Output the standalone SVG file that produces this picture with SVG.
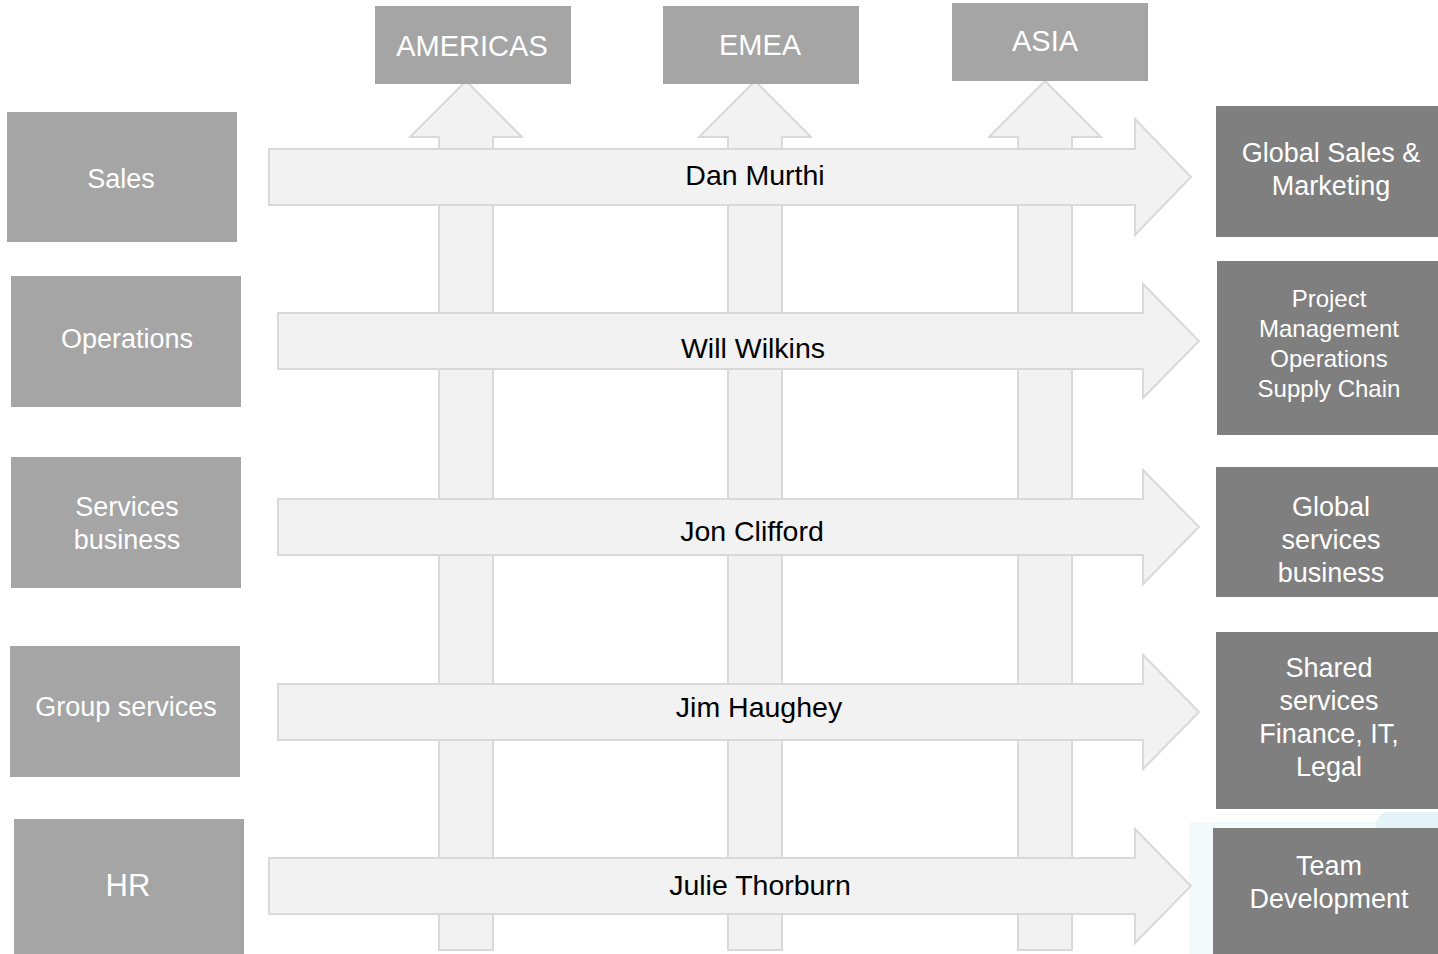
<svg xmlns="http://www.w3.org/2000/svg" width="1438" height="954" viewBox="0 0 1438 954">
<style>
.bg{fill:#ffffff}
.arrow{fill:#f2f2f2;stroke:#d9d9d9;stroke-width:2;stroke-linejoin:miter}
.lbox{fill:#a5a5a5}
.rbox{fill:#7f7f7f}
.wt{font-family:"Liberation Sans",Arial,sans-serif;fill:#ffffff;text-anchor:middle;font-size:27px}
.wt.top{font-size:29px}
.wt.big{font-size:31px}
.wt.small{font-size:24px}
.bt{font-family:"Liberation Sans",Arial,sans-serif;fill:#000000;text-anchor:middle;font-size:28.5px}
</style>
<rect class="bg" x="0" y="0" width="1438" height="954"/>
<g id="decor">
<rect x="1189" y="822" width="249" height="132" fill="#f4f9fb"/>
<path d="M1385,812 H1438 V830 H1378 Q1372,820 1385,812 Z" fill="#e4f3f7"/>
</g>
<g id="connectors">
<path id="v-americas" class="arrow" d="M439,950 V137 H410 L466,81 L522,137 H493 V950 Z"/>
<path id="v-emea" class="arrow" d="M728,950 V137 H699 L755,81 L811,137 H782 V950 Z"/>
<path id="v-asia" class="arrow" d="M1018,950 V137 H989 L1045,81 L1101,137 H1072 V950 Z"/>
<g id="h-sales"><path class="arrow" d="M269,149 H1135 V119 L1191,177 L1135,235 V205 H269 Z"/><text class="bt" x="755" y="185">Dan Murthi</text></g>
<g id="h-ops"><path class="arrow" d="M278,313 H1143 V284 L1199,341 L1143,398 V369 H278 Z"/><text class="bt" x="753" y="358">Will Wilkins</text></g>
<g id="h-services"><path class="arrow" d="M278,499 H1143 V470 L1199,527 L1143,584 V555 H278 Z"/><text class="bt" x="752" y="541">Jon Clifford</text></g>
<g id="h-group"><path class="arrow" d="M278,684 H1143 V655 L1199,712 L1143,769 V740 H278 Z"/><text class="bt" x="759" y="717">Jim Haughey</text></g>
<g id="h-hr"><path class="arrow" d="M269,858 H1135 V829 L1191,886 L1135,943 V914 H269 Z"/><text class="bt" x="760" y="895">Julie Thorburn</text></g>
</g>
<g id="americas"><rect class="lbox" x="375" y="6" width="196" height="78"/><text class="wt top" x="472" y="56">AMERICAS</text></g>
<g id="emea"><rect class="lbox" x="663" y="6" width="196" height="78"/><text class="wt top" x="760" y="55">EMEA</text></g>
<g id="asia"><rect class="lbox" x="952" y="3" width="196" height="78"/><text class="wt top" x="1045" y="51">ASIA</text></g>
<g id="sales"><rect class="lbox" x="7" y="112" width="230" height="130"/><text class="wt" x="121" y="188">Sales</text></g>
<g id="operations"><rect class="lbox" x="11" y="276" width="230" height="131"/><text class="wt" x="127" y="348">Operations</text></g>
<g id="services-business"><rect class="lbox" x="11" y="457" width="230" height="131"/><text class="wt" x="127" y="516">Services</text><text class="wt" x="127" y="549">business</text></g>
<g id="group-services"><rect class="lbox" x="10" y="646" width="230" height="131"/><text class="wt" x="126" y="716">Group services</text></g>
<g id="hr"><rect class="lbox" x="14" y="819" width="230" height="135"/><text class="wt big" x="128" y="896">HR</text></g>
<g id="global-sales"><rect class="rbox" x="1216" y="106" width="222" height="131"/><text class="wt" x="1331" y="162">Global Sales &amp;</text><text class="wt" x="1331" y="195">Marketing</text></g>
<g id="project-mgmt"><rect class="rbox" x="1217" y="261" width="221" height="174"/><text class="wt small" x="1329" y="307">Project</text><text class="wt small" x="1329" y="337">Management</text><text class="wt small" x="1329" y="367">Operations</text><text class="wt small" x="1329" y="397">Supply Chain</text></g>
<g id="global-services"><rect class="rbox" x="1216" y="467" width="222" height="130"/><text class="wt" x="1331" y="516">Global</text><text class="wt" x="1331" y="549">services</text><text class="wt" x="1331" y="582">business</text></g>
<g id="shared-services"><rect class="rbox" x="1216" y="632" width="222" height="177"/><text class="wt" x="1329" y="677">Shared</text><text class="wt" x="1329" y="710">services</text><text class="wt" x="1329" y="743">Finance, IT,</text><text class="wt" x="1329" y="776">Legal</text></g>
<g id="team-dev"><rect class="rbox" x="1213" y="828" width="225" height="126"/><text class="wt" x="1329" y="875">Team</text><text class="wt" x="1329" y="908">Development</text></g>
</svg>
